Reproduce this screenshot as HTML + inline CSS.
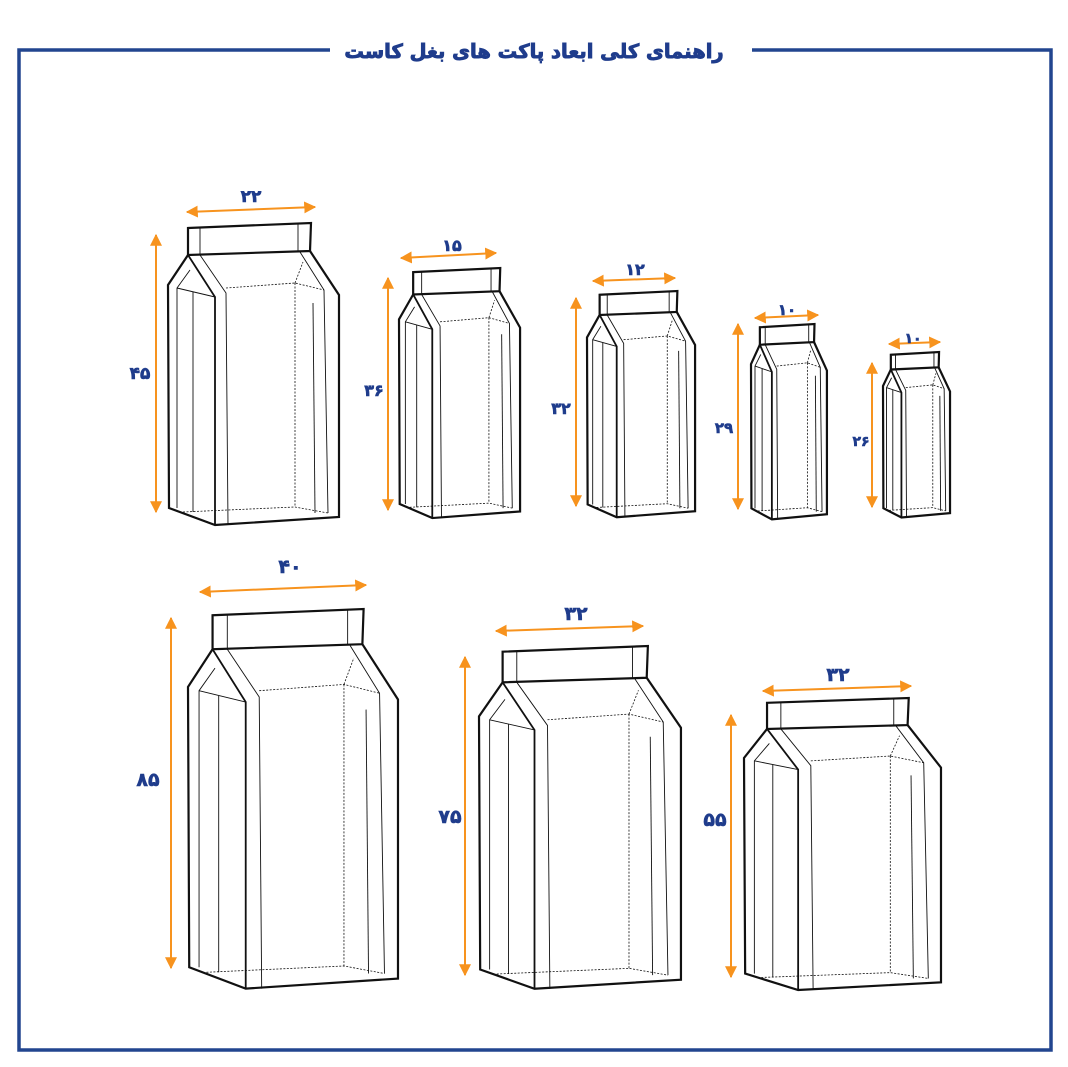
<!DOCTYPE html>
<html><head><meta charset="utf-8"><style>
html,body{margin:0;padding:0;background:#fff;}
svg{display:block}
.n{font-family:"DejaVu Sans","Liberation Sans",sans-serif;font-weight:bold;fill:#1f3c8c;text-anchor:middle;stroke:#1f3c8c;stroke-width:0.6}
</style></head><body>
<svg width="1068" height="1067" viewBox="0 0 1068 1067" xmlns="http://www.w3.org/2000/svg">
<defs>
<g id="bag" fill="none" stroke="#111">
<path d="M20,5 L143,0 L142,28 L20,32 Z" stroke-width="2.2" vector-effect="non-scaling-stroke" fill="#fff"/>
<path d="M20,32 L0,62 L1,285 L47,302 L171,294 L171,72 L142,28" stroke-width="2.2" vector-effect="non-scaling-stroke"/>
<path d="M20,32 L47,74 L47,302" stroke-width="1.8" vector-effect="non-scaling-stroke"/>
<g stroke-width="0.9">
<path d="M32,5 L32,32 M130,1 L130,28" vector-effect="non-scaling-stroke"/>
<path d="M32,32 L58,70 L60,302" vector-effect="non-scaling-stroke"/>
<path d="M132,29 L156,67 L160,290" vector-effect="non-scaling-stroke"/>
<path d="M9,285 L9,65 L22,47 M9,65 L47,74" vector-effect="non-scaling-stroke"/>
<path d="M25,69 L25,289" vector-effect="non-scaling-stroke"/>
<path d="M145,80 L147,290" vector-effect="non-scaling-stroke"/>
</g>
<g stroke-width="0.8" stroke-dasharray="2,1.5">
<path d="M58,65 L127,60 L156,67 M127,60 L135,39 M127,60 L127,284 M15,289 L127,284 L160,290" vector-effect="non-scaling-stroke"/>
</g>
</g>
<marker id="ah" viewBox="0 0 10 10" refX="9" refY="5" markerWidth="6" markerHeight="6" orient="auto-start-reverse"><path d="M0,0 L10,5 L0,10 Z" fill="#f7931e"/></marker>
</defs>

<path d="M330,50 L19,50 L19,1050 L1051,1050 L1051,50 L752,50" fill="none" stroke="#22458f" stroke-width="3.5"/>
<text x="534" y="58" class="n" font-size="19.5" style="stroke-width:0.9">راهنمای کلی ابعاد پاکت های بغل کاست</text>

<use href="#bag" transform="translate(168,223) scale(1,1)"/>
<use href="#bag" transform="translate(399,268) scale(0.708,0.828)"/>
<use href="#bag" transform="translate(587,291) scale(0.632,0.749)"/>
<use href="#bag" transform="translate(751,324) scale(0.444,0.647)"/>
<use href="#bag" transform="translate(883,352) scale(0.392,0.548)"/>
<use href="#bag" transform="translate(188,609) scale(1.228,1.257)"/>
<use href="#bag" transform="translate(479,646) scale(1.181,1.135)"/>
<use href="#bag" transform="translate(744,698) scale(1.152,0.967)"/>

<g stroke="#f7931e" stroke-width="2" marker-start="url(#ah)" marker-end="url(#ah)">
<line x1="187" y1="212" x2="315" y2="207"/><line x1="156" y1="235" x2="156" y2="512"/>
<line x1="401" y1="258" x2="496" y2="253"/><line x1="388" y1="278" x2="388" y2="510"/>
<line x1="593" y1="281" x2="675" y2="278"/><line x1="576" y1="298" x2="576" y2="506"/>
<line x1="755" y1="318" x2="818" y2="315"/><line x1="738" y1="324" x2="738" y2="509"/>
<line x1="889" y1="344" x2="940" y2="342"/><line x1="872" y1="363" x2="872" y2="507"/>
<line x1="200" y1="592" x2="366" y2="585"/><line x1="171" y1="618" x2="171" y2="968"/>
<line x1="496" y1="631" x2="643" y2="626"/><line x1="465" y1="657" x2="465" y2="975"/>
<line x1="763" y1="691" x2="911" y2="686"/><line x1="731" y1="715" x2="731" y2="977"/>
</g>

<g class="n">
<text x="251" y="202" font-size="17">۲۲</text><text x="140" y="379" font-size="17">۴۵</text>
<text x="452" y="251" font-size="16">۱۵</text><text x="374" y="396" font-size="16">۳۶</text>
<text x="635" y="275" font-size="16">۱۲</text><text x="561" y="414" font-size="16">۳۲</text>
<text x="787" y="315" font-size="15">۱۰</text><text x="724" y="433" font-size="15">۲۹</text>
<text x="913" y="343" font-size="14">۱۰</text><text x="861" y="446" font-size="14">۲۶</text>
<text x="290" y="573" font-size="19">۴۰</text><text x="148" y="786" font-size="19">۸۵</text>
<text x="576" y="620" font-size="19">۳۲</text><text x="450" y="823" font-size="19">۷۵</text>
<text x="838" y="681" font-size="19">۳۲</text><text x="715" y="826" font-size="19">۵۵</text>
</g>
</svg>
</body></html>
